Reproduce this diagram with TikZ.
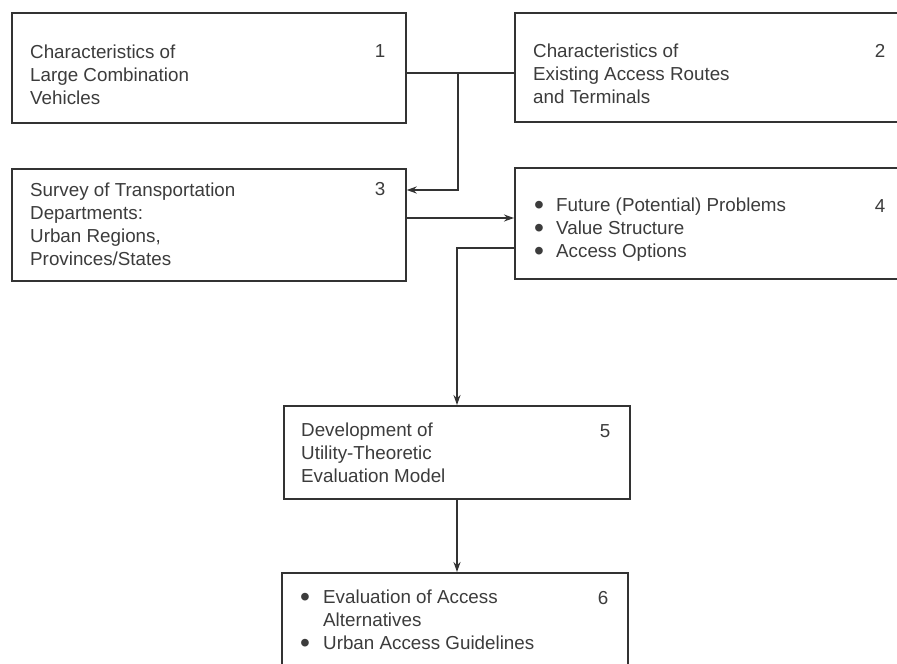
\documentclass[tikz,border=0pt]{standalone}
\usepackage{fontspec}
\setmainfont{Liberation Sans}
\usetikzlibrary{arrows.meta}
\definecolor{ink}{HTML}{333333}
\definecolor{txt}{HTML}{3C3C3C}
\tikzset{
  box/.style={draw=ink, line width=1.7pt, anchor=north west, inner sep=0pt, fill=none},
  lbl/.style={anchor=base west, align=left, inner sep=0pt, text=txt,
    font=\fontsize{18.8pt}{23pt}\selectfont},
  num/.style={anchor=base, inner sep=0pt, text=txt, font=\fontsize{18.8pt}{23pt}\selectfont},
  conn/.style={draw=ink, line width=1.7pt},
  arr/.style={conn, -{Stealth[length=10pt,width=7pt]}}
}
\newcommand{\mybul}{\smash{\raisebox{-3.2pt}{\scalebox{1.5}{•}}}}
\newcommand{\bul}{\makebox[22pt][l]{\mybul}}
\newcommand{\bulb}{\makebox[23pt][l]{\mybul}}
\begin{document}
\begin{tikzpicture}[x=1pt,y=-1pt]
\useasboundingbox (0,0) rectangle (897,664);
\clip (0,0) rectangle (897,664);
\fill[white] (0,0) rectangle (897,664);
% boxes
\node[box, minimum width=394pt, minimum height=110pt] (b1) at (11,12) {};
\node[box, minimum width=400pt, minimum height=109pt] (b2) at (514,12) {};
\node[box, minimum width=394pt, minimum height=112pt] (b3) at (11,168) {};
\node[box, minimum width=400pt, minimum height=111pt] (b4) at (514,167) {};
\node[box, minimum width=346pt, minimum height=93pt] (b5) at (283,405) {};
\node[box, minimum width=346pt, minimum height=96pt] (b6) at (281,572) {};
% texts (anchored at the baseline of the last line)
\node[lbl] (t1) at (30,104) {Characteristics of\\Large Combination\\Vehicles};
\node[num] (n1) at (380,57) {1};
\node[lbl] (t2) at (533,103) {Characteristics of\\Existing Access Routes\\and Terminals};
\node[num] (n2) at (880,57) {2};
\node[lbl] (t3) at (30,265.5) {Survey of Transportation\\Departments:\\Urban Regions,\\Provinces/States};
\node[num] (n3) at (380,195) {3};
\node[lbl] (t4) at (534,257.5) {\bul Future (Potential) Problems\\\bul Value Structure\\\bul Access Options};
\node[num] (n4) at (880,212) {4};
\node[lbl] (t5) at (301,482.5) {Development of\\Utility-Theoretic\\Evaluation Model};
\node[num] (n5) at (605,437) {5};
\node[lbl] (t6) at (300,649.5) {\bulb Evaluation of Access\\\hspace*{23pt}Alternatives\\\bulb Urban Access Guidelines};
\node[num] (n6) at (603,604) {6};
% connectors
\coordinate (j) at (458,73);
\coordinate (p3) at (458,190);
\coordinate (p34) at (460,218);
\coordinate (p45) at (457,248);
\draw[conn] (j -| b1.east) -- (j -| b2.west);
\draw[arr] (j) -- (p3) -- (p3 -| b3.east);
\draw[arr] (p34 -| b3.east) -- (p34 -| b4.west);
\draw[arr] (p45 -| b4.west) -- (p45) -- (p45 |- b5.north);
\draw[arr] (p45 |- b5.south) -- (p45 |- b6.north);
\end{tikzpicture}
\end{document}
